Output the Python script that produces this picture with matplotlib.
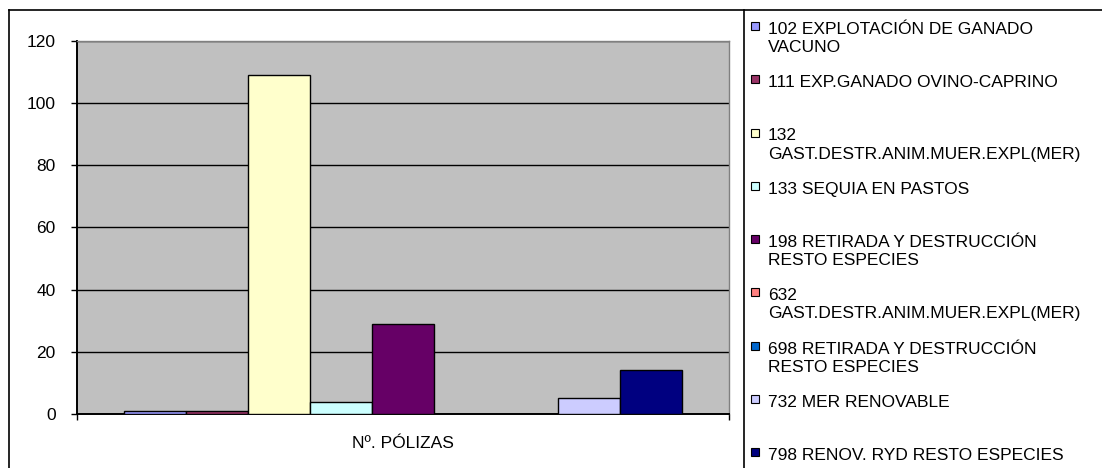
import matplotlib.pyplot as plt
from matplotlib.patches import Rectangle
from matplotlib.lines import Line2D

plt.rcParams['font.family'] = ['Liberation Sans', 'DejaVu Sans']

category = "Nº. PÓLIZAS"
series = [
    "102 EXPLOTACIÓN DE GANADO\nVACUNO",
    "111 EXP.GANADO OVINO-CAPRINO",
    "132\nGAST.DESTR.ANIM.MUER.EXPL(MER)",
    "133 SEQUIA EN PASTOS",
    "198 RETIRADA Y DESTRUCCIÓN\nRESTO ESPECIES",
    "632\nGAST.DESTR.ANIM.MUER.EXPL(MER)",
    "698 RETIRADA Y DESTRUCCIÓN\nRESTO ESPECIES",
    "732 MER RENOVABLE",
    "798 RENOV. RYD RESTO ESPECIES",
]
values = [1, 1, 109, 4, 29, 0, 0, 5, 14]
colors = ["#9999FF", "#993366", "#FFFFCC", "#CCFFFF", "#660066",
          "#FF8080", "#0066CC", "#CCCCFF", "#000080"]

FS = 12.5
W, H = 1102, 468
fig = plt.figure(figsize=(W / 100, H / 100), dpi=100)
ax = fig.add_axes([77 / W, 1 - 414 / H, (729 - 77) / W, (414 - 41) / H])
ax.set_facecolor("#C0C0C0")

# excel style: gap width 150%
n = len(values)
w = 1 / (n + 1.5)
for i, (v, c) in enumerate(zip(values, colors)):
    ax.bar((i - (n - 1) / 2) * w, v, width=w, color=c, edgecolor="black",
           linewidth=1, zorder=3)

ax.set_xlim(-0.5, 0.5)
ax.set_ylim(0, 120)
ax.set_yticks(range(0, 121, 20))
ax.set_axisbelow(True)
ax.yaxis.grid(True, color="black", linewidth=1)

ax.set_xticks([0])
ax.set_xticklabels([category])
ax.set_xticks([-0.5, 0.5], minor=True)
ax.tick_params(axis="x", which="major", length=0, pad=15.5, labelsize=FS)
ax.tick_params(axis="x", which="minor", length=4.3, width=1, direction="out")
ax.tick_params(axis="y", length=4.3, width=1, direction="out", pad=11,
               labelsize=FS)

for s in ["left", "bottom"]:
    ax.spines[s].set_color("black")
    ax.spines[s].set_linewidth(1.4)
for s in ["top", "right"]:
    ax.spines[s].set_color("#808080")
    ax.spines[s].set_linewidth(1)

# chart area borders
fig.add_artist(Line2D([9 / W, 9 / W], [0, 1 - 10 / H], color="black", lw=1.2,
                      transform=fig.transFigure))
fig.add_artist(Line2D([9 / W, 1], [1 - 10 / H, 1 - 10 / H], color="black",
                      lw=1.2, transform=fig.transFigure))
fig.add_artist(Line2D([744 / W, 744 / W], [0, 1 - 10 / H], color="black",
                      lw=1.2, transform=fig.transFigure))

# legend, drawn by hand like the excel one
for i, (lab, c) in enumerate(zip(series, colors)):
    yc = 26 + i * 53.25
    fig.add_artist(Rectangle(((755 - 4) / W, 1 - (yc + 4) / H), 8 / W, 8 / H,
                             facecolor=c, edgecolor="black", lw=0.8,
                             transform=fig.transFigure))
    for k, line in enumerate(lab.split("\n")):
        fig.text(768 / W, 1 - (yc + 8 + k * 18) / H, line, va="baseline",
                 ha="left", fontsize=FS)

fig.savefig("out.png", dpi=100)
